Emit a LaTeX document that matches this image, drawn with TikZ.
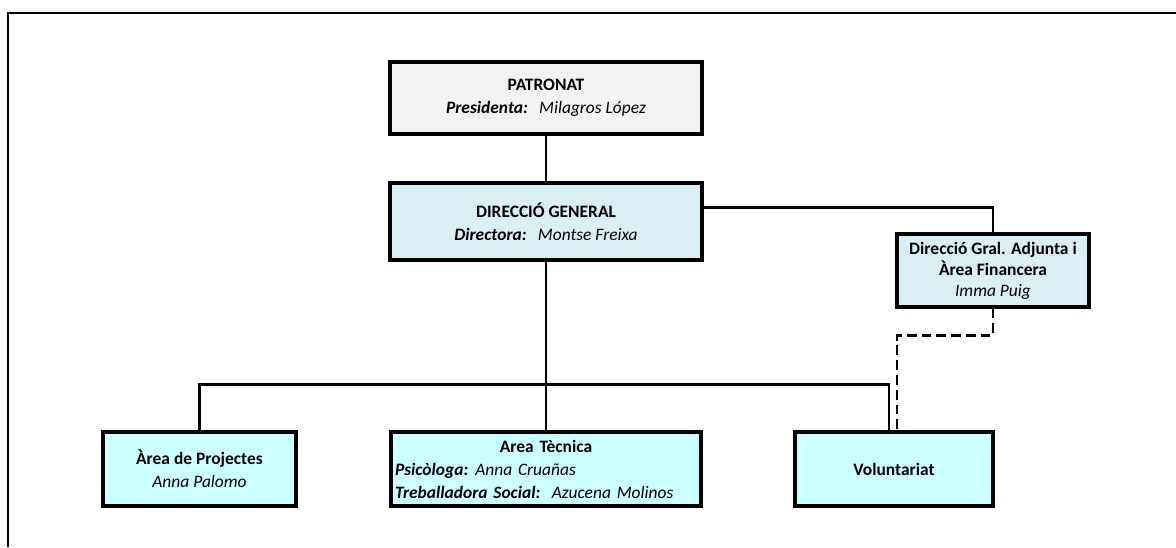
\documentclass[tikz,border=0pt]{standalone}
\usepackage{fontspec}
\setmainfont{Carlito}
\usepackage{tikz}
\usetikzlibrary{calc,positioning}
\definecolor{patgrey}{HTML}{F2F2F2}
\definecolor{dirblue}{HTML}{DAEEF3}
\definecolor{areacyan}{HTML}{CCFFFF}
\tikzstyle{unit}=[rectangle, line width=2.3pt, draw=black, inner sep=0.1cm, align=center, minimum height=\hb, font=\fontsize{12.4pt}{16.4pt}\selectfont]
\tikzstyle{top}=[unit, fill=patgrey, minimum width=\wb]
\tikzstyle{dir}=[unit, fill=dirblue]
\tikzstyle{area}=[unit, fill=areacyan]
\tikzstyle{link}=[line width=2pt]
\tikzstyle{dashlink}=[link, dash pattern=on 7pt off 3.5pt]
\newcommand{\wb}{7.8cm}
\newcommand{\hb}{1.85cm}
\newcommand{\pres}[3][0.65em]{{\itshape\textbf{#2:}\hspace{#1}#3}}

\begin{document}
\begin{tikzpicture}
        \useasboundingbox (0,0) rectangle (29.4,-13.675);
        \draw[line width=2.1pt] (29.4,-0.325) -| (0.2,-13.675);
        \node[top, minimum height=1.8cm] (P) at (13.65,-2.45) {\textbf{PATRONAT}\\ \pres{Presidenta}{Milagros López}};
        \node[dir, minimum width=\wb, minimum height=1.925cm] (D) at (13.65,-5.5375) {\textbf{DIRECCIÓ GENERAL}\\ \pres{Directora}{Montse Freixa}};
        \node[dir, minimum width=4.8cm, minimum height=1.825cm, font=\fontsize{12.4pt}{15pt}\selectfont] (F) at (24.825,-6.7625) {\textbf{Direcció Gral. Adjunta i}\\ \textbf{Àrea Financera}\\ \textit{Imma Puig}};
        \node[area, minimum width=4.825cm] (AP) at (4.9875,-11.725) {\textbf{Àrea de Projectes}\\ \textit{Anna Palomo}};
        \node[area, minimum width=7.75cm, text width=7.55cm, align=left] (AT) at (13.65,-11.725) {\makebox[\linewidth]{\textbf{Area Tècnica}}\\ \pres[0.4em]{Psicòloga}{Anna Cruañas}\\ \pres{Treballadora Social}{Azucena Molinos}};
        \node[area, minimum width=4.95cm] (V) at (22.35,-11.725) {\textbf{Voluntariat}};
        \coordinate (bus) at ($(D.south)+(0,-3.075)$);
        \draw[link] (P.south) -- (D.north);
        \draw[link] ($(D.north east)+(0,-0.65)$) -| (F.north);
        \draw[link] (D.south) -- (AT.north);
        \draw[link] (AP.north) |- (bus) -| ($(V.north)+(-0.125,0)$);
        \draw[dashlink] (F.south) -- ++(0,-0.675) -| ($(V.north)+(0.075,0)$);
\end{tikzpicture}
\end{document}
